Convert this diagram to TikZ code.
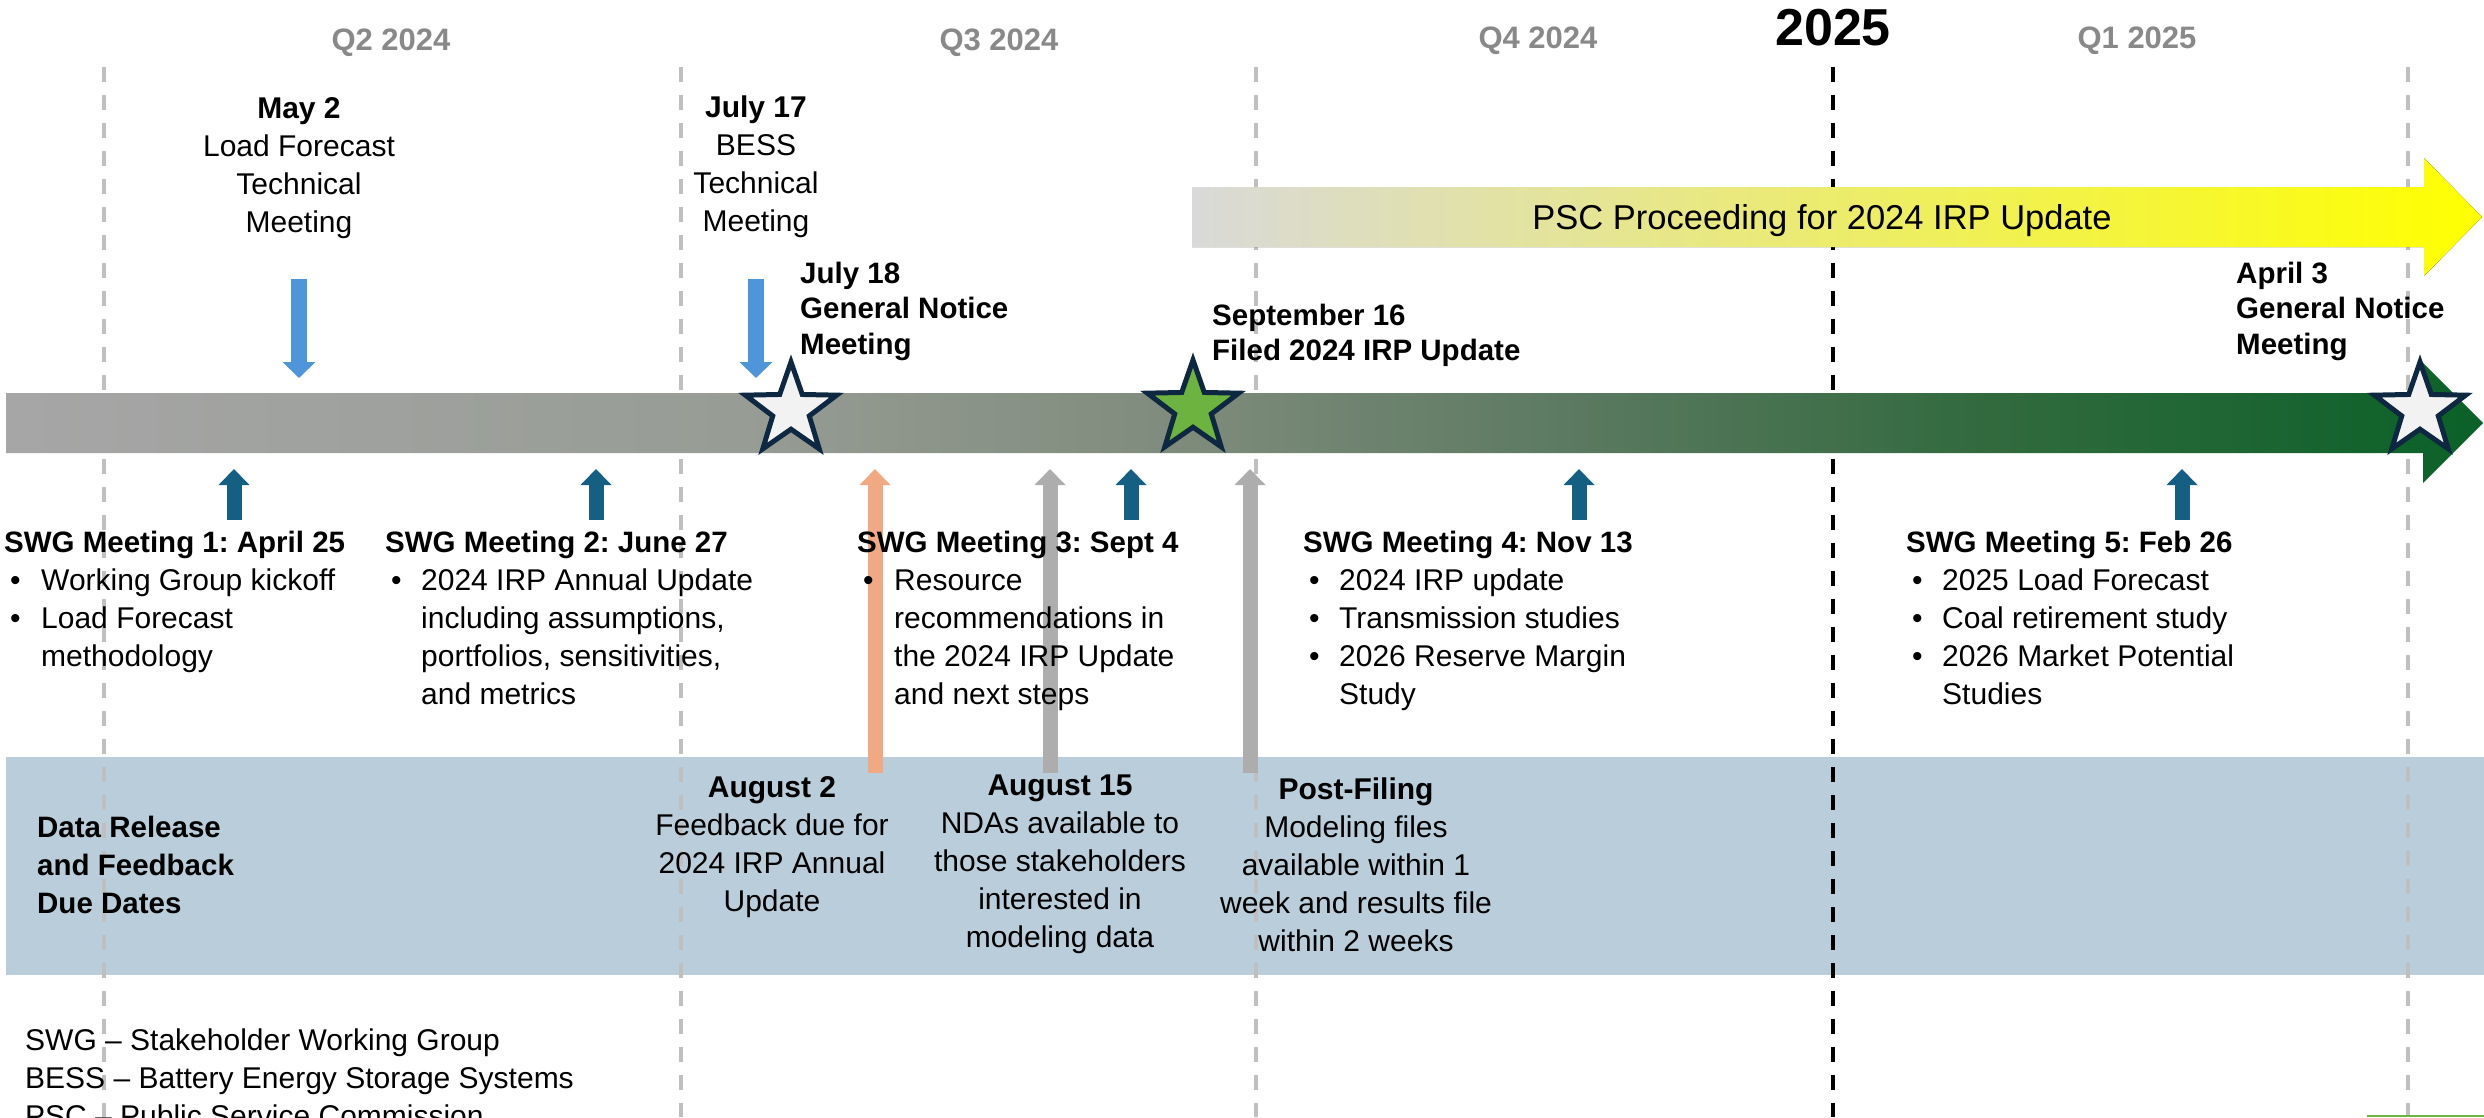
\documentclass[tikz,border=0pt]{standalone}
\usepackage{fontspec}
\setmainfont{Liberation Sans}
\usetikzlibrary{arrows.meta,shapes.geometric}
\frenchspacing
\definecolor{qgray}{HTML}{898989}
\definecolor{lgray}{HTML}{BFBFBF}
\definecolor{boxblue}{HTML}{B9CEDA}
\definecolor{arrblue}{HTML}{4E95D9}
\definecolor{darkblue}{HTML}{156082}
\definecolor{salmon}{HTML}{F1A983}
\definecolor{agray}{HTML}{ADADAD}
\definecolor{navy}{HTML}{0E2841}
\definecolor{stargreen}{HTML}{6DB33F}
\definecolor{starwhite}{HTML}{F2F2F2}
\definecolor{tlA}{RGB}{166,166,166}
\definecolor{tlB}{RGB}{151,156,149}
\definecolor{tlC}{RGB}{126,139,123}
\definecolor{tlD}{RGB}{90,121,96}
\definecolor{tlE}{RGB}{50,106,62}
\definecolor{tlF}{RGB}{10,97,40}
\definecolor{pscgray}{HTML}{D9D9D9}
\definecolor{pscmid}{RGB}{233,233,168}
\definecolor{pscyellow}{HTML}{FFFF00}
\pgfdeclarehorizontalshading{tlshade}{100bp}{color(0bp)=(tlA); color(25bp)=(tlA); color(39.92bp)=(tlB); color(48.9bp)=(tlC); color(56.87bp)=(tlD); color(64.87bp)=(tlE); color(75bp)=(tlF); color(100bp)=(tlF)}
\tikzset{
  rg/.style={inner sep=0pt, font=\fontsize{30}{38}\selectfont},
  bd/.style={inner sep=0pt, font=\fontsize{29.5}{38}\selectfont\bfseries},
  bdn/.style={inner sep=0pt, font=\fontsize{29.5}{35.5}\selectfont\bfseries},
  qlab/.style={inner sep=0pt, font=\fontsize{31}{31}\selectfont\bfseries, text=qgray},
  qline/.style={draw=lgray, line width=4pt, dash pattern=on 15pt off 13pt},
  yline/.style={draw=black, line width=4pt, dash pattern=on 15pt off 13pt},
  downarr/.style={draw=arrblue, line width=16pt, -{Triangle[width=32pt,length=16pt]}},
  uparr/.style={line width=15pt, -{Triangle[width=30pt,length=16pt]}},
  mstar/.style={star, star points=5, star point ratio=2.5, minimum size=96pt, inner sep=0pt, draw=navy, line width=5pt},
}
\begin{document}
\begin{tikzpicture}[x=1pt,y=-1pt]
\useasboundingbox (0,0) rectangle (2484,1117);
\clip (0,0) rectangle (2484,1117);
\fill[white] (0,0) rectangle (2484,1117);

% data release band
\fill[boxblue] (6,757) rectangle (2484,975);

% quarter separators
\draw[qline] (104,67) -- (104,1117);
\draw[qline] (681,67) -- (681,1117);
\draw[qline] (1256,67) -- (1256,1117);
\draw[qline] (2408,67) -- (2408,1117);
\draw[yline] (1833,67) -- (1833,1117);

% timeline bar
\shade[shading=tlshade]
  (6,393) -- (2423,393) -- (2423,363) -- (2483,423) -- (2423,483) -- (2423,453) -- (6,453) -- cycle;

% PSC arrow
\fill[left color=pscgray, middle color=pscmid, right color=pscyellow]
  (1192,187) -- (2424,187) -- (2424,158) -- (2482,217) -- (2424,276) -- (2424,247) -- (1192,247) -- cycle;
\node[inner sep=0pt, font=\fontsize{34.5}{40}\selectfont, anchor=base] (psc) at (1822,229) {PSC Proceeding for 2024 IRP Update};

% stars
\node[mstar, fill=starwhite] (s1) at (791,410) {};
\node[mstar, fill=stargreen] (s2) at (1193,408) {};
\node[mstar, fill=starwhite] (s3) at (2420,410) {};

% quarter labels
\node[qlab, anchor=base] (q2) at (391,50) {Q2 2024};
\node[qlab, anchor=base] (q3) at (999,50) {Q3 2024};
\node[qlab, anchor=base] (q4) at (1538,48) {Q4 2024};
\node[qlab, anchor=base] (q1) at (2137,48) {Q1 2025};
\node[inner sep=0pt, font=\fontsize{52}{52}\selectfont\bfseries, anchor=base] (y25) at (1833,45) {2025};

% top events
\node[rg, anchor=base] (may2) at (299,118) {\begin{tabular}[t]{@{}c@{}}\textbf{May 2}\\Load Forecast\\Technical\\Meeting\end{tabular}};
\node[rg, anchor=base] (jul17) at (756,117) {\begin{tabular}[t]{@{}c@{}}\textbf{July 17}\\BESS\\Technical\\Meeting\end{tabular}};
\node[bdn, anchor=base west] (jul18) at (800,283) {\begin{tabular}[t]{@{}l@{}}July 18\\General Notice\\Meeting\end{tabular}};
\node[bdn, anchor=base west] (sep16) at (1212,325) {\begin{tabular}[t]{@{}l@{}}September 16\\Filed 2024 IRP Update\end{tabular}};
\node[bdn, anchor=base west] (apr3) at (2236,283) {\begin{tabular}[t]{@{}l@{}}April 3\\General Notice\\Meeting\end{tabular}};

% down arrows
\coordinate (d1s) at (299,279); \coordinate (d1e) at (299,378);
\coordinate (d2s) at (756,279); \coordinate (d2e) at (756,378);
\draw[downarr] (d1s) -- (d1e);
\draw[downarr] (d2s) -- (d2e);

% up arrows
\coordinate (u1s) at (234,520); \coordinate (u1e) at (234,469);
\coordinate (u2s) at (596,520); \coordinate (u2e) at (596,469);
\coordinate (u3s) at (1131,520); \coordinate (u3e) at (1131,469);
\coordinate (u4s) at (1579,520); \coordinate (u4e) at (1579,469);
\coordinate (u5s) at (2182,520); \coordinate (u5e) at (2182,469);
\coordinate (t1s) at (875,773); \coordinate (t1e) at (875,469);
\coordinate (t2s) at (1050,773); \coordinate (t2e) at (1050,469);
\coordinate (t3s) at (1250,773); \coordinate (t3e) at (1250,469);
\draw[uparr, draw=darkblue] (u1s) -- (u1e);
\draw[uparr, draw=darkblue] (u2s) -- (u2e);
\draw[uparr, draw=darkblue] (u3s) -- (u3e);
\draw[uparr, draw=darkblue] (u4s) -- (u4e);
\draw[uparr, draw=darkblue] (u5s) -- (u5e);
\draw[uparr, draw=salmon] (t1s) -- (t1e);
\draw[uparr, draw=agray] (t2s) -- (t2e);
\draw[uparr, draw=agray] (t3s) -- (t3e);

% SWG meetings
\node[bd, anchor=base west] (m1) at (4,552) {SWG Meeting 1: April 25};
\node[rg, anchor=base west] (m1b) at (10,590) {\begin{tabular}[t]{@{}l@{}}\makebox[31pt][l]{•}Working Group kickoff\\\makebox[31pt][l]{•}Load Forecast\\\hspace*{31pt}methodology\end{tabular}};
\node[bd, anchor=base west] (m2) at (385,552) {SWG Meeting 2: June 27};
\node[rg, anchor=base west] (m2b) at (391,590) {\begin{tabular}[t]{@{}l@{}}\makebox[30pt][l]{•}2024 IRP Annual Update\\\hspace*{30pt}including assumptions,\\\hspace*{30pt}portfolios, sensitivities,\\\hspace*{30pt}and metrics\end{tabular}};
\node[bd, anchor=base west] (m3) at (857,552) {SWG Meeting 3: Sept 4};
\node[rg, anchor=base west] (m3b) at (863,590) {\begin{tabular}[t]{@{}l@{}}\makebox[31pt][l]{•}Resource\\\hspace*{31pt}recommendations in\\\hspace*{31pt}the 2024 IRP Update\\\hspace*{31pt}and next steps\end{tabular}};
\node[bd, anchor=base west] (m4) at (1303,552) {SWG Meeting 4: Nov 13};
\node[rg, anchor=base west] (m4b) at (1309,590) {\begin{tabular}[t]{@{}l@{}}\makebox[30pt][l]{•}2024 IRP update\\\makebox[30pt][l]{•}Transmission studies\\\makebox[30pt][l]{•}2026 Reserve Margin\\\hspace*{30pt}Study\end{tabular}};
\node[bd, anchor=base west] (m5) at (1906,552) {SWG Meeting 5: Feb 26};
\node[rg, anchor=base west] (m5b) at (1912,590) {\begin{tabular}[t]{@{}l@{}}\makebox[30pt][l]{•}2025 Load Forecast\\\makebox[30pt][l]{•}Coal retirement study\\\makebox[30pt][l]{•}2026 Market Potential\\\hspace*{30pt}Studies\end{tabular}};

% data release band texts
\node[bd, anchor=base west] (drel) at (37,837) {\begin{tabular}[t]{@{}l@{}}Data Release\\and Feedback\\Due Dates\end{tabular}};
\node[rg, anchor=base] (aug2) at (772,797) {\begin{tabular}[t]{@{}c@{}}\textbf{August 2}\\Feedback due for\\2024 IRP Annual\\Update\end{tabular}};
\node[rg, anchor=base] (aug15) at (1060,795) {\begin{tabular}[t]{@{}c@{}}\textbf{August 15}\\NDAs available to\\those stakeholders\\interested in\\modeling data\end{tabular}};
\node[rg, anchor=base] (postf) at (1356,799) {\begin{tabular}[t]{@{}c@{}}\textbf{Post-Filing}\\Modeling files\\available within 1\\week and results file\\within 2 weeks\end{tabular}};

% legend
\node[rg, anchor=base west] (legend) at (25,1050) {\begin{tabular}[t]{@{}l@{}}SWG – Stakeholder Working Group\\BESS – Battery Energy Storage Systems\\PSC – Public Service Commission\end{tabular}};

% edge fragment at bottom right
\draw[draw=stargreen, line width=2pt] (2367,1116) -- (2484,1116);
\end{tikzpicture}
\end{document}
